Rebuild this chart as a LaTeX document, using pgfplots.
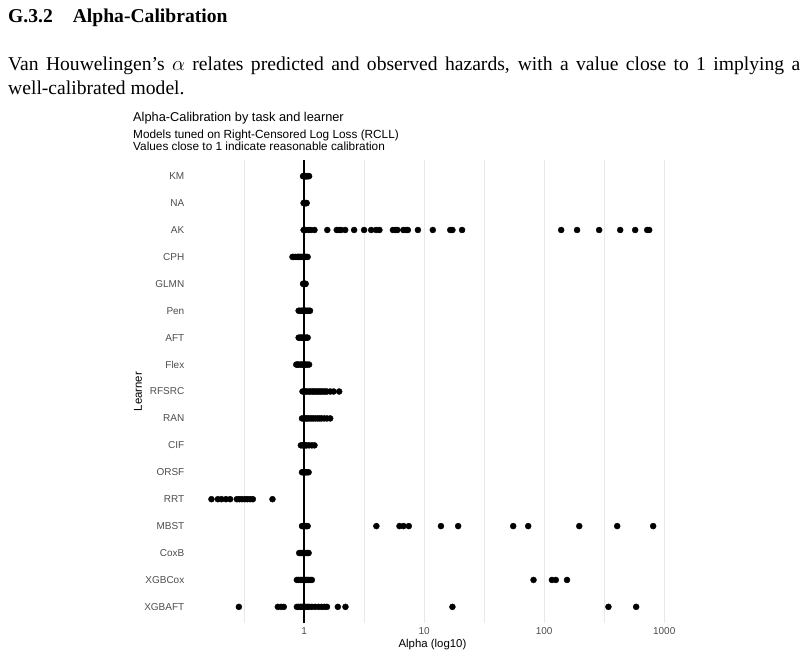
\documentclass[border=0pt]{standalone}
\usepackage{fontspec}
\setmainfont{Liberation Serif}
\newfontfamily\chartfont{Liberation Sans}
\usepackage{pgfplots}
\pgfplotsset{compat=1.18}
\definecolor{gridgray}{HTML}{E8E8E8}
\definecolor{axisgray}{HTML}{4D4D4D}
\pgfplotsset{pt/.style={only marks, mark=*, black, mark options={draw=none, fill=black}}}
\begin{document}
\begin{tikzpicture}
\path[use as bounding box] (0,0) rectangle (805bp,-658bp);
% heading and text
\node[anchor=base west, inner sep=0pt, font=\fontsize{19.6bp}{24bp}\selectfont\bfseries] at (8bp,-22bp) {G.3.2\hspace{20bp}Alpha-Calibration};
\node[anchor=base west, inner sep=0pt, font=\fontsize{19.6bp}{24bp}\selectfont] at (8bp,-70bp) {\makebox[792bp][s]{Van Houwelingen’s $\alpha$ relates predicted and observed hazards, with a value close to 1 implying a}};
\node[anchor=base west, inner sep=0pt, font=\fontsize{19.6bp}{24bp}\selectfont] at (8bp,-94bp) {well-calibrated model.};
% chart titles
\node[anchor=base west, inner sep=0pt, font=\chartfont\fontsize{12.8bp}{14bp}\selectfont] at (133bp,-121bp) {Alpha-Calibration by task and learner};
\node[anchor=base west, inner sep=0pt, font=\chartfont\fontsize{11.8bp}{13bp}\selectfont] at (133bp,-138bp) {Models tuned on Right-Censored Log Loss (RCLL)};
\node[anchor=base west, inner sep=0pt, font=\chartfont\fontsize{11.8bp}{13bp}\selectfont] at (133bp,-150bp) {Values close to 1 indicate reasonable calibration};
\node[inner sep=0pt, font=\chartfont\fontsize{11.4bp}{13bp}\selectfont] at (432.5bp,-645bp) {Alpha (log10)};
\node[inner sep=0pt, rotate=90, font=\chartfont\fontsize{11.4bp}{13bp}\selectfont] at (138bp,-391.5bp) {Learner};
\begin{axis}[
  at={(190bp,-623bp)}, anchor=south west,
  scale only axis, width=485bp, height=463bp,
  xmode=log, xmin=0.112, xmax=1230,
  ymin=0.4, ymax=17.6,
  xtick={1,10,100,1000}, xticklabels={1,10,100,1000},
  minor xtick={0.3162,3.162,31.62,316.2},
  xmajorgrids, xminorgrids,
  major grid style={color=gridgray, line width=0.9bp},
  minor grid style={color=gridgray, line width=0.9bp},
  ytick={1,...,17},
  yticklabels={XGBAFT,XGBCox,CoxB,MBST,RRT,ORSF,CIF,RAN,RFSRC,Flex,AFT,Pen,GLMN,CPH,AK,NA,KM},
  tick style={draw=none},
  axis line style={draw=none},
  /pgf/number format/assume math mode=true,
  ticklabel style={font=\chartfont\fontsize{10bp}{11bp}\selectfont, text=axisgray},
  xticklabel style={inner sep=0pt, anchor=north, yshift=-4bp},
  yticklabel style={inner sep=0pt, anchor=east, xshift=-5.5bp},
  mark size=3bp,
]
\addplot[black, line width=1.5bp, mark=none] coordinates {(1,0.4) (1,17.6)};
% KM
\addplot[pt] coordinates {(0.98,17) (0.99,17) (1.0,17) (1.01,17) (1.02,17) (1.03,17) (1.04,17) (1.05,17) (1.06,17) (1.08,17) (1.1,17)};
% NA
\addplot[pt] coordinates {(0.99,16) (1.0,16) (1.01,16) (1.02,16) (1.03,16) (1.04,16) (1.05,16)};
% AK
\addplot[pt] coordinates {(0.99,15) (1.03,15) (1.09,15) (1.14,15) (1.22,15) (1.56,15) (1.87,15) (1.96,15) (2.03,15) (2.20,15) (2.61,15) (3.16,15) (3.62,15) (3.98,15) (4.24,15) (5.49,15) (5.77,15) (5.99,15) (6.72,15) (7.08,15) (7.31,15) (8.87,15) (11.8,15) (16.5,15) (17.2,15) (20.7,15) (138.6,15) (188,15) (287,15) (430,15) (573,15) (722,15) (750,15)};
% CPH
\addplot[pt] coordinates {(0.8,14) (0.82,14) (0.85,14) (0.88,14) (0.9,14) (0.92,14) (0.94,14) (0.96,14) (0.98,14) (1.0,14) (1.02,14) (1.04,14) (1.07,14)};
% GLMN
\addplot[pt] coordinates {(0.98,13) (0.99,13) (1.0,13) (1.01,13) (1.02,13) (1.03,13)};
% Pen
\addplot[pt] coordinates {(0.9,12) (0.92,12) (0.95,12) (0.97,12) (0.99,12) (1.0,12) (1.02,12) (1.04,12) (1.07,12) (1.1,12) (1.12,12)};
% AFT
\addplot[pt] coordinates {(0.9,11) (0.92,11) (0.94,11) (0.96,11) (0.98,11) (1.0,11) (1.02,11) (1.05,11) (1.07,11)};
% Flex
\addplot[pt] coordinates {(0.86,10) (0.88,10) (0.9,10) (0.93,10) (0.96,10) (0.98,10) (1.0,10) (1.03,10) (1.06,10) (1.1,10)};
% RFSRC
\addplot[pt] coordinates {(0.97,9) (1.0,9) (1.03,9) (1.06,9) (1.1,9) (1.13,9) (1.17,9) (1.2,9) (1.24,9) (1.28,9) (1.32,9) (1.36,9) (1.4,9) (1.45,9) (1.5,9) (1.55,9) (1.65,9) (1.76,9) (1.96,9)};
% RAN
\addplot[pt] coordinates {(0.96,8) (0.99,8) (1.02,8) (1.05,8) (1.08,8) (1.12,8) (1.16,8) (1.2,8) (1.25,8) (1.3,8) (1.35,8) (1.4,8) (1.47,8) (1.55,8) (1.65,8)};
% CIF
\addplot[pt] coordinates {(0.94,7) (0.97,7) (1.0,7) (1.02,7) (1.05,7) (1.1,7) (1.16,7) (1.22,7)};
% ORSF
\addplot[pt] coordinates {(0.96,6) (0.98,6) (1.0,6) (1.02,6) (1.04,6) (1.06,6) (1.09,6)};
% RRT
\addplot[pt] coordinates {(0.169,5) (0.191,5) (0.205,5) (0.223,5) (0.242,5) (0.275,5) (0.289,5) (0.304,5) (0.321,5) (0.337,5) (0.355,5) (0.374,5) (0.545,5)};
% MBST
\addplot[pt] coordinates {(0.96,4) (0.98,4) (1.0,4) (1.02,4) (1.05,4) (1.07,4) (4.0,4) (6.23,4) (6.72,4) (7.45,4) (13.8,4) (19.2,4) (55.2,4) (73.6,4) (196,4) (406,4) (809,4)};
% CoxB
\addplot[pt] coordinates {(0.91,3) (0.93,3) (0.95,3) (0.97,3) (0.99,3) (1.0,3) (1.02,3) (1.05,3) (1.07,3) (1.09,3)};
% XGBCox
\addplot[pt] coordinates {(0.87,2) (0.9,2) (0.93,2) (0.96,2) (0.99,2) (1.02,2) (1.05,2) (1.08,2) (1.12,2) (1.16,2) (81.5,2) (116,2) (125,2) (155,2)};
% XGBAFT
\addplot[pt] coordinates {(0.286,1) (0.604,1) (0.643,1) (0.677,1) (0.87,1) (0.9,1) (0.93,1) (0.96,1) (0.99,1) (1.02,1) (1.06,1) (1.1,1) (1.16,1) (1.235,1) (1.32,1) (1.4,1) (1.48,1) (1.55,1) (1.91,1) (2.21,1) (17.2,1) (343,1) (584,1)};
\end{axis}
\end{tikzpicture}
\end{document}
